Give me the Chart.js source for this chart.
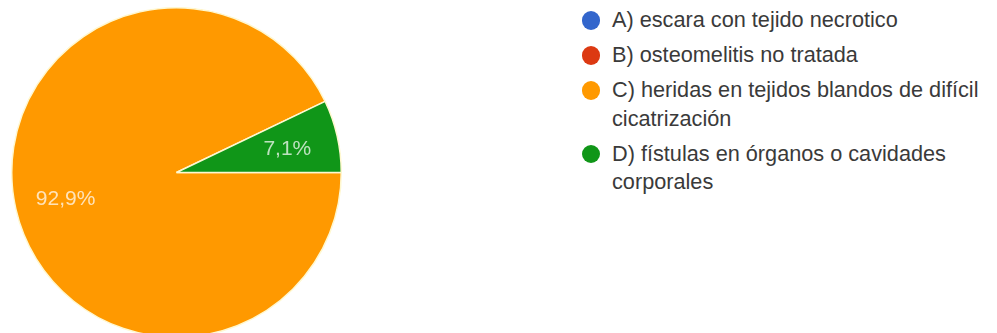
<!DOCTYPE html>
<html>
<head>
<meta charset="utf-8">
<script src="https://cdn.jsdelivr.net/npm/chart.js@4/dist/chart.umd.min.js"></script>
<style>
  html, body { margin: 0; padding: 0; background: #fff; overflow: hidden; }
  body { width: 997px; height: 333px; position: relative; font-family: "Liberation Sans", Arial, sans-serif; }
  #pieBox { position: absolute; left: 11px; top: 7px; width: 331px; height: 331px; }
  #legend { position: absolute; left: 581px; top: 6px; width: 416px; list-style: none; margin: 0; padding: 0; }
  #legend li { position: relative; padding-left: 31px; width: 385px; font-size: 21.7px; line-height: 28.5px; color: #3a3a3a; margin-bottom: 6.5px; }
  #legend li span.dot { position: absolute; left: 0.5px; top: 5px; width: 18.5px; height: 18.5px; border-radius: 50%; }
</style>
</head>
<body>
<div id="pieBox"><canvas id="pie"></canvas></div>
<ul id="legend"></ul>
<script>
const categories = [
  "A) escara con tejido necrotico",
  "B) osteomelitis no tratada",
  "C) heridas en tejidos blandos de difícil cicatrización",
  "D) fístulas en órganos o cavidades corporales"
];
const percents = [0, 0, 92.9, 7.1];
const colors = ["#3366cc", "#dc3912", "#ff9900", "#109618"];

// legend on the right, long answers wrap onto a second line
const legend = document.getElementById("legend");
categories.forEach((cat, i) => {
  const li = document.createElement("li");
  const dot = document.createElement("span");
  dot.className = "dot";
  dot.style.backgroundColor = colors[i];
  li.appendChild(dot);
  li.appendChild(document.createTextNode(cat));
  legend.appendChild(li);
});

// percentage text inside each slice
const sliceLabels = {
  id: "sliceLabels",
  afterDatasetsDraw(chart) {
    const ctx = chart.ctx;
    const meta = chart.getDatasetMeta(0);
    const values = chart.data.datasets[0].data;
    ctx.save();
    ctx.font = "21px 'Liberation Sans', Arial, sans-serif";
    ctx.fillStyle = "rgba(255,255,255,0.72)";
    ctx.textAlign = "center";
    ctx.textBaseline = "middle";
    meta.data.forEach((arc, i) => {
      if (!values[i]) return;
      const mid = (arc.startAngle + arc.endAngle) / 2;
      const r = arc.outerRadius * 0.69;
      const x = arc.x + Math.cos(mid) * r;
      const y = arc.y + Math.sin(mid) * r + 2;
      ctx.fillText(values[i].toFixed(1).replace(".", ",") + "%", x, y);
    });
    ctx.restore();
  }
};

new Chart(document.getElementById("pie"), {
  type: "pie",
  data: {
    labels: categories,
    datasets: [{
      data: percents,
      backgroundColor: colors,
      borderColor: "#fff8d0",
      borderWidth: 1.5
    }]
  },
  options: {
    responsive: true,
    maintainAspectRatio: false,
    animation: false,
    rotation: 90,
    layout: { padding: 0 },
    plugins: {
      legend: { display: false },
      tooltip: { enabled: false }
    }
  },
  plugins: [sliceLabels]
});
</script>
</body>
</html>
